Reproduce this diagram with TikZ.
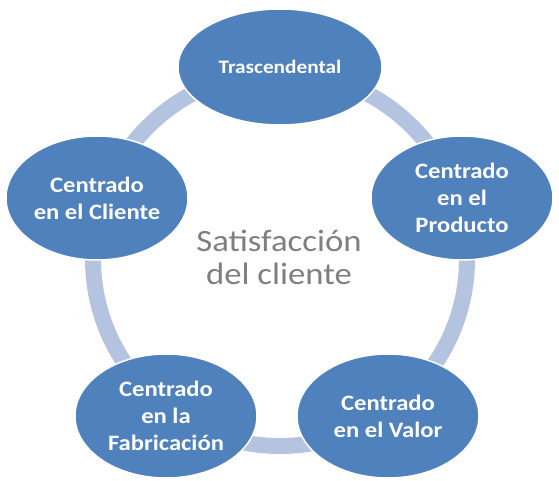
\documentclass[tikz,border=0pt]{standalone}
\usepackage{fontspec}
\setmainfont{Carlito}[FakeStretch=1.12]
\usepackage{tikz}
\usetikzlibrary{shapes.geometric}
\usepackage{xcolor}
\definecolor{azul}{HTML}{4F81BD}
\definecolor{anillo}{HTML}{B4C3DF}
\definecolor{gristexto}{HTML}{7F7F7F}

\begin{document}
\begin{tikzpicture}[x=1pt,y=1pt,
    etapa/.style={ellipse, fill=azul, draw=white, line width=1.5pt, inner sep=0pt,
        minimum width=182, minimum height=124, text=white, align=center,
        font=\fontsize{22}{27}\selectfont\bfseries}]
% cadre
\useasboundingbox (0,0) rectangle (559,480);
% anneau
\coordinate (centro) at (280,221);
\draw[anillo, line width=16pt] (centro) circle (187);
\node[text=gristexto, align=center, font=\fontsize{31}{33}\selectfont] (sat) at (279,223) {Satisfacción\\del cliente};
% etapes
\node[etapa, minimum width=204, minimum height=116, font=\fontsize{19}{27}\selectfont\bfseries] (trasc) at (280,413) {Trascendental};
\node[etapa] (prod) at (462,282) {Centrado\\en el\\Producto};
\node[etapa] (valor) at (388,64) {Centrado\\en el Valor};
\node[etapa] (fabr) at (166,64) {Centrado\\en la\\Fabricación};
\node[etapa] (cliente) at (97,282) {Centrado\\en el Cliente};
\end{tikzpicture}
\end{document}
